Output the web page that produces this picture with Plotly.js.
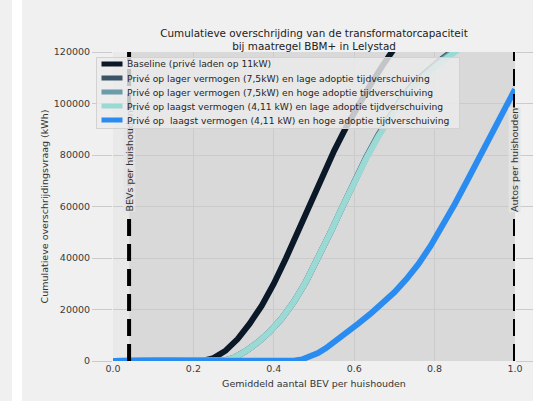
<!DOCTYPE html>
<html>
<head>
<meta charset="utf-8">
<script src="https://cdn.plot.ly/plotly-3.0.1.min.js"></script>
<style>
  html, body { margin: 0; padding: 0; background: #f0f0f0; overflow: hidden; }
  #wrap { position: relative; width: 533px; height: 401px; }
  #stripe { position: absolute; left: 12px; top: 0; width: 10px; height: 401px; background: #ffffff; }
  #chart { position: absolute; left: 0; top: 0; width: 533px; height: 401px; }
</style>
</head>
<body>
<div id="wrap">
  <div id="stripe"></div>
  <div id="chart"></div>
</div>
<script>
// Gemiddeld aantal BEV per huishouden (x) en cumulatieve overschrijdingsvraag in kWh (y)
const seriesNames = [
  "Baseline (privé laden op 11kW)",
  "Privé op lager vermogen (7,5kW) en lage adoptie tijdverschuiving",
  "Privé op lager vermogen (7,5kW) en hoge adoptie tijdverschuiving",
  "Privé op laagst vermogen (4,11 kW) en lage adoptie tijdverschuiving",
  "Privé op  laagst vermogen (4,11 kW) en hoge adoptie tijdverschuiving"
];
const seriesColors = ["#0b1828", "#3c5566", "#6b9ca9", "#9ad9d4", "#2a8cf0"];

const baselineX = [0, 0.21, 0.23, 0.25, 0.28, 0.31, 0.34, 0.37, 0.40, 0.43, 0.46, 0.49, 0.52, 0.55, 0.58, 0.61, 0.64, 0.67, 0.70, 0.72];
const baselineY = [0, 0, 300, 1100, 4000, 8500, 14500, 21500, 30000, 39800, 50400, 61200, 71700, 81600, 90800, 99300, 107200, 114600, 121600, 126000];

const lagerLaagX = [0, 0.26, 0.28, 0.30, 0.33, 0.36, 0.39, 0.42, 0.45, 0.48, 0.51, 0.54, 0.57, 0.60, 0.63, 0.66, 0.69, 0.72, 0.75, 0.78, 0.81, 0.84, 0.87, 0.89];
const lagerLaagY = [0, 0, 300, 1200, 3800, 7200, 11400, 16600, 23000, 30800, 39800, 49600, 59600, 69600, 79200, 87900, 95700, 102500, 108300, 112600, 116400, 119900, 123300, 125600];

const lagerHoogX = [0, 0.26, 0.28, 0.30, 0.33, 0.36, 0.39, 0.42, 0.45, 0.48, 0.51, 0.54, 0.57, 0.60, 0.63, 0.66, 0.69, 0.72, 0.75, 0.78, 0.81, 0.84, 0.87, 0.89];
const lagerHoogY = [0, 0, 300, 1200, 3800, 7200, 11400, 16600, 23000, 30800, 39800, 49600, 59600, 69500, 79000, 87600, 95300, 102000, 107800, 112100, 115900, 119400, 122800, 125100];

const laagstLaagX = [0, 0.26, 0.28, 0.30, 0.33, 0.36, 0.39, 0.42, 0.45, 0.48, 0.51, 0.54, 0.57, 0.60, 0.63, 0.66, 0.69, 0.72, 0.75, 0.78, 0.81, 0.84, 0.87, 0.89];
const laagstLaagY = [0, 0, 300, 1200, 3800, 7200, 11400, 16600, 23000, 30800, 39800, 49600, 59600, 69400, 78700, 87200, 94800, 101500, 107300, 111500, 115300, 118800, 122200, 124500];

const laagstHoogX = [0, 0.43, 0.45, 0.47, 0.49, 0.51, 0.53, 0.55, 0.58, 0.61, 0.64, 0.67, 0.70, 0.73, 0.76, 0.79, 0.82, 0.85, 0.88, 0.91, 0.94, 0.97, 1.00];
const laagstHoogY = [0, 0, 100, 600, 1600, 3100, 5000, 7200, 10800, 14500, 18300, 22300, 26700, 31800, 37700, 44700, 52500, 60900, 69700, 78700, 87700, 96700, 105500];

const seriesX = [baselineX, lagerLaagX, lagerHoogX, laagstLaagX, laagstHoogX];
const seriesY = [baselineY, lagerLaagY, lagerHoogY, laagstLaagY, laagstHoogY];

const xTickValues = [0, 0.2, 0.4, 0.6, 0.8, 1.0];
const xTickLabels = ["0.0", "0.2", "0.4", "0.6", "0.8", "1.0"];
const yTickValues = [0, 20000, 40000, 60000, 80000, 100000, 120000];
const yTickLabels = ["0", "20000", "40000", "60000", "80000", "100000", "120000"];

// Verticale referentielijnen
const bevPerHousehold = 0.04;
const carsPerHousehold = 1.0;
const refLabels = ["BEVs per huishouden", "Autos per huishouden"];
const refLabelY = 57500;

const FONT = "DejaVu Sans, Verdana, sans-serif";
const W = 533, H = 401;
const M = {l: 113, r: 18, t: 52, b: 40};
const plotW = W - M.l - M.r, plotH = H - M.t - M.b;
// pixel helpers for legend layout (paper coordinates)
const px = v => (v - M.l) / plotW;
const py = v => (H - M.b - v) / plotH;

const traces = seriesNames.map((name, i) => ({
  type: "scatter",
  mode: "lines",
  name: name,
  x: seriesX[i],
  y: seriesY[i],
  line: {color: seriesColors[i], width: 6, shape: "linear"},
  showlegend: false,
  hoverinfo: "skip"
}));

const annotations = [];
// labels on the reference lines
[bevPerHousehold, carsPerHousehold].forEach((xv, i) => {
  annotations.push({
    x: xv, xref: "x", y: refLabelY, yref: "y",
    text: refLabels[i], textangle: -90,
    xanchor: "center", yanchor: "bottom",
    showarrow: false,
    font: {family: FONT, size: 9.5, color: "#333333"},
    bgcolor: "rgba(228,228,228,0.92)", borderpad: 0
  });
});

// legend panel
const legLeft = 96, legTop = 57, legW = 362, legH = 70, rowH = 14;
annotations.push({
  x: px(legLeft), y: py(legTop), xref: "paper", yref: "paper",
  xanchor: "left", yanchor: "top", text: " ", showarrow: false,
  width: legW, height: legH, borderpad: 0,
  bgcolor: "rgba(236,236,236,0.82)", bordercolor: "#d2d2d2", borderwidth: 1
});
seriesNames.forEach((name, i) => {
  const cy = legTop + 7 + i * rowH;
  annotations.push({
    x: px(101), y: py(cy), xref: "paper", yref: "paper",
    xanchor: "left", yanchor: "middle", text: " ", showarrow: false,
    width: 20, height: 4, borderpad: 0, font: {size: 2},
    bgcolor: seriesColors[i]
  });
  annotations.push({
    x: px(126), y: py(cy), xref: "paper", yref: "paper",
    xanchor: "left", yanchor: "middle", text: name, showarrow: false,
    borderpad: 0,
    font: {family: FONT, size: 9.2, color: "#262626"}
  });
});

const shapes = [
  {
    type: "rect", xref: "x", yref: "paper",
    x0: bevPerHousehold, x1: carsPerHousehold, y0: 0, y1: 1,
    fillcolor: "#d9d9d9", line: {width: 0}, layer: "below"
  },
  ...[bevPerHousehold, carsPerHousehold].map(xv => ({
    type: "line", xref: "x", yref: "paper",
    x0: xv, x1: xv, y0: 0, y1: 1,
    line: {color: "#000000", width: 4, dash: "17px,8px"}, layer: "above"
  }))
];

const layout = {
  width: W, height: H,
  margin: M,
  paper_bgcolor: "rgba(0,0,0,0)",
  plot_bgcolor: "#e9e9e9",
  font: {family: FONT, size: 9.5, color: "#333333"},
  title: {
    text: "Cumulatieve overschrijding van de transformatorcapaciteit<br>bij maatregel BBM+ in Lelystad",
    x: 0.5, xref: "paper", xanchor: "center",
    y: (H - 36.5) / H, yref: "container", yanchor: "top",
    font: {family: FONT, size: 10.4, color: "#222222"}
  },
  xaxis: {
    range: [0, 1], autorange: false,
    tickvals: xTickValues, ticktext: xTickLabels,
    showgrid: true, gridcolor: "#cbcbcb", gridwidth: 1,
    zeroline: false, showline: false, ticks: "",
    tickfont: {family: FONT, size: 9.5, color: "#3a3a3a"},
    title: {text: "Gemiddeld aantal BEV per huishouden", font: {family: FONT, size: 9.5, color: "#333333"}, standoff: 7},
    automargin: false
  },
  yaxis: {
    range: [0, 120000], autorange: false,
    tickvals: yTickValues, ticktext: yTickLabels,
    showgrid: true, gridcolor: "#cbcbcb", gridwidth: 1,
    zeroline: false, showline: false,
    ticks: "outside", ticklen: 20, tickcolor: "#cbcbcb", tickwidth: 1, mirror: "ticks",
    tickfont: {family: FONT, size: 9.5, color: "#3a3a3a"},
    title: {text: "Cumulatieve overschrijdingsvraag (kWh)", font: {family: FONT, size: 9.5, color: "#333333"}, standoff: 3},
    automargin: false
  },
  showlegend: false,
  shapes: shapes,
  annotations: annotations
};

Plotly.newPlot("chart", traces, layout, {displayModeBar: false, staticPlot: true});
</script>
</body>
</html>
